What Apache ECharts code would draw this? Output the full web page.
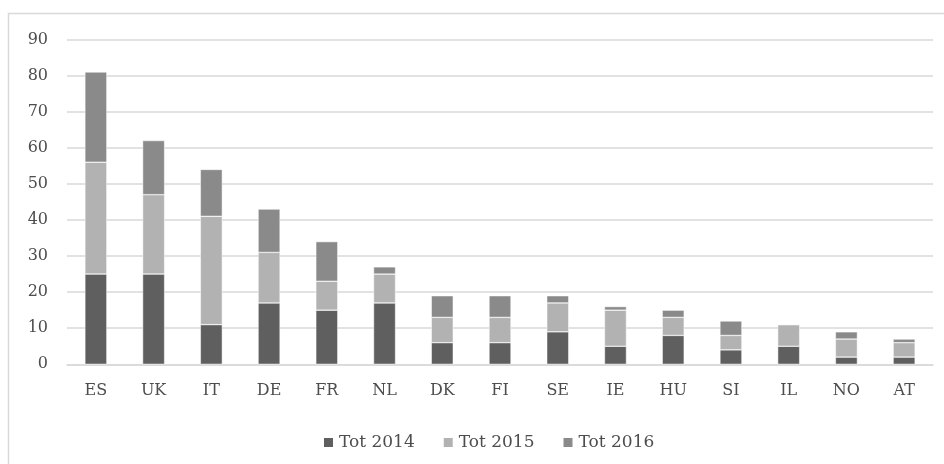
<!DOCTYPE html>
<html>
<head>
<meta charset="utf-8">
<script src="https://cdn.jsdelivr.net/npm/echarts@6/dist/echarts.min.js"></script>
<style>html,body{margin:0;padding:0;background:#fff;}#chart{width:944px;height:464px;}</style>
</head>
<body>
<div id="chart"></div>
<script>
const categories = ['ES','UK','IT','DE','FR','NL','DK','FI','SE','IE','HU','SI','IL','NO','AT'];
const tot2014 = [25,25,11,17,15,17,6,6,9,5,8,4,5,2,2];
const tot2015 = [31,22,30,14,8,8,7,7,8,10,5,4,6,5,4];
const tot2016 = [25,15,13,12,11,2,6,6,2,1,2,4,0,2,1];
const seriesNames = ['Tot 2014','Tot 2015','Tot 2016'];
const yTicks = [0,10,20,30,40,50,60,70,80,90];

const colors = ['#5f5f5f','#b2b2b2','#8a8a8a'];
const font = 'DejaVu Serif';
const textColor = '#4d4d4d';
const chart = echarts.init(document.getElementById('chart'), null, {renderer:'canvas'});
const mk = (name, data, i) => ({
  name, type:'bar', stack:'total', data, barWidth:22,
  itemStyle:{color:colors[i], borderColor:'#ffffff', borderWidth:0.5},
  emphasis:{disabled:true}
});
chart.setOption({
  animation:false,
  backgroundColor:'#ffffff',
  graphic:[{type:'rect', shape:{x:8.5,y:13.5,width:960,height:480}, style:{fill:null, stroke:'#d9d9d9', lineWidth:1.5}, silent:true}],
  grid:{left:67, right:11, top:39.5, bottom:99.7},
  legend:{
    data:seriesNames, top:429, left:317, itemWidth:11, itemHeight:11, itemGap:27,
    icon:'rect', textStyle:{fontFamily:font, fontSize:17, color:textColor}
  },
  xAxis:{
    type:'category', data:categories,
    axisLine:{show:true, lineStyle:{color:'#d9d9d9', width:1.5}},
    axisTick:{show:false},
    axisLabel:{fontFamily:font, fontSize:16, color:textColor, margin:19}
  },
  yAxis:{
    type:'value', min:yTicks[0], max:yTicks[yTicks.length-1], interval:10,
    axisLine:{show:false}, axisTick:{show:false},
    splitLine:{lineStyle:{color:'#d9d9d9', width:1.5}},
    axisLabel:{fontFamily:font, fontSize:16, color:textColor, margin:19}
  },
  series:[mk(seriesNames[0],tot2014,0), mk(seriesNames[1],tot2015,1), mk(seriesNames[2],tot2016,2)]
});
</script>
</body>
</html>
